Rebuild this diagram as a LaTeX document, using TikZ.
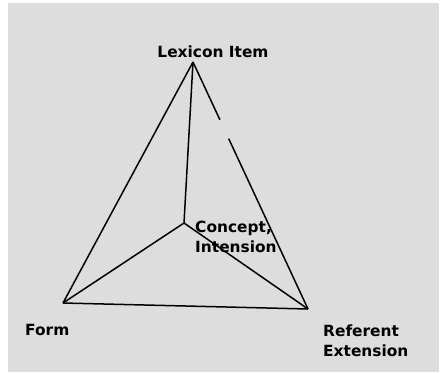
\documentclass[tikz,border=0pt]{standalone}
\usepackage{fontspec}
\setmainfont{DejaVu Sans}
\usetikzlibrary{calc,positioning}
\definecolor{bggray}{RGB}{221,221,221}

\begin{document}
\begin{tikzpicture}[
    x=1pt, y=-1pt,
    font=\bfseries\fontsize{15.4}{20}\selectfont,
    lbl/.style={inner sep=0pt, align=left},
    edge/.style={line width=1.5pt, draw=black}
  ]
    \useasboundingbox (0,0) rectangle (441,372);
    \fill[bggray] (8,3) rectangle (439,372);

    % vertices of the tetrahedron
    \coordinate (lex) at (193,62);
    \coordinate (form) at (63,303);
    \coordinate (ref) at (308,309);
    \coordinate (conc) at (184,223);

    % labels
    \node[lbl] (lexlbl) at (213,52) {Lexicon Item};
    \node[lbl, anchor=west] (conclbl) at (195,237) {Concept,\\Intension};
    \node[lbl, anchor=west] (formlbl) at (25,330) {Form};
    \node[lbl, anchor=west] (reflbl) at (323,341) {Referent\\Extension};

    % edges
    \draw[edge] (lex) -- (form);
    \draw[edge] (lex) -- ($(lex)!0.234!(ref)$);
    \draw[edge] ($(lex)!0.31!(ref)$) -- (ref);
    \draw[edge] (lex) -- (conc);
    \draw[edge] (conc) -- (form);
    \draw[edge] (conc) -- (ref);
    \draw[edge] (form) -- (ref);
  \end{tikzpicture}
\end{document}
